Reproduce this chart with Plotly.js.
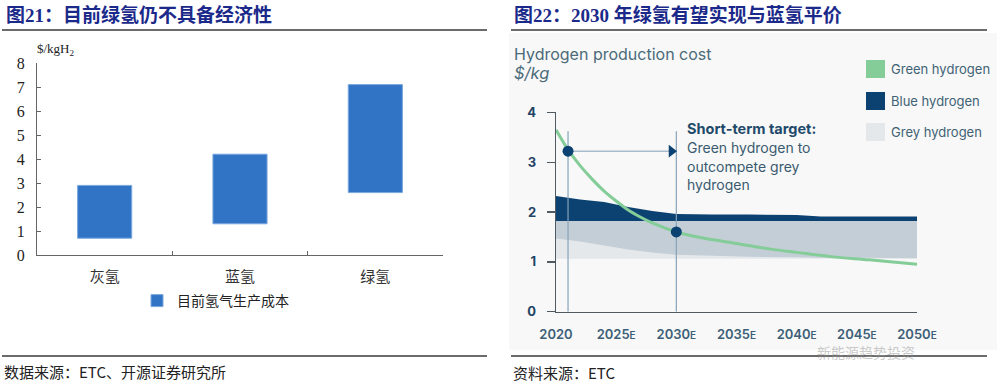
<!DOCTYPE html>
<html><head><meta charset="utf-8">
<script src="https://cdn.plot.ly/plotly-3.0.1.min.js"></script>
<style>html,body{margin:0;padding:0;background:#fff}#chart{width:1000px;height:382px}</style>
</head><body><div id="chart"></div>
<script>
// ---------- Left chart data (图21) ----------
const leftCategories = ['灰氢', '蓝氢', '绿氢'];
const costLow = [0.7, 1.3, 2.6];
const costHigh = [2.9, 4.2, 7.1];
const leftSeriesName = '目前氢气生产成本';
const leftYTicks = [0, 1, 2, 3, 4, 5, 6, 7, 8];

// ---------- Right chart data (图22) ----------
const bandYears = [2020, 2022, 2024, 2026, 2028, 2030, 2033, 2036, 2040, 2042, 2045, 2050];
const greyLow   = [1.06, 1.06, 1.06, 1.06, 1.06, 1.06, 1.06, 1.06, 1.06, 1.06, 1.06, 1.06];
const greyHigh  = [1.82, 1.82, 1.82, 1.82, 1.82, 1.82, 1.82, 1.82, 1.82, 1.82, 1.82, 1.82];
const blueLow   = [1.47, 1.41, 1.33, 1.25, 1.19, 1.14, 1.12, 1.10, 1.09, 1.08, 1.08, 1.07];
const blueHigh  = [2.32, 2.25, 2.20, 2.10, 2.02, 1.96, 1.95, 1.95, 1.94, 1.91, 1.91, 1.91];
const greenYears = [2020, 2021, 2022, 2023, 2024, 2025, 2026, 2027, 2028, 2030, 2032, 2035, 2038, 2040, 2043, 2046, 2050];
const greenCost  = [3.65, 3.25, 2.93, 2.66, 2.42, 2.22, 2.04, 1.90, 1.78, 1.60, 1.49, 1.37, 1.25, 1.19, 1.10, 1.04, 0.95];
const targetYears = [2021, 2030];
const targetCost = [3.22, 1.60];
const arrowEndYear = 2029.6;
const guideTop = 3.62;
const rightXTicks = [2020, 2025, 2030, 2035, 2040, 2045, 2050];
const rightXLabels = ['2020', '2025E', '2030E', '2035E', '2040E', '2045E', '2050E'];
const rightYTicks = [0, 1, 2, 3, 4];
const legendNames = ['Green hydrogen', 'Blue hydrogen', 'Grey hydrogen'];

// ---------- helpers ----------
const W = 1000, H = 382;
const px = v => v / W;
const py = v => 1 - v / H;
const poly = (xs, hi, lo) => ({
  x: xs.concat(xs.slice().reverse()),
  y: hi.concat(lo.slice().reverse())
});

const SERIF = '"Liberation Serif", "Noto Sans CJK SC", serif';
const CJK = '"Noto Sans CJK SC", sans-serif';
const SANS = 'Inter, "Open Sans", sans-serif';
const TITLE_C = '#1b2a8a';
const GREEN = '#84cc98', NAVY = '#0b4271', MID = '#c4ced7', LIGHT = '#e5e8eb';

// ---------- traces ----------
const traces = [];
traces.push({
  type: 'bar', x: leftCategories, base: costLow,
  y: costHigh.map((h, i) => h - costLow[i]),
  width: 0.4, name: leftSeriesName, xaxis: 'x', yaxis: 'y',
  marker: { color: '#3174c6', line: { color: '#7aa7dd', width: 1 } },
  hoverinfo: 'skip', showlegend: true
});

const greyPoly = poly(bandYears, greyHigh, greyLow);
traces.push({ type: 'scatter', mode: 'none', fill: 'toself', fillcolor: LIGHT,
  x: greyPoly.x, y: greyPoly.y, xaxis: 'x2', yaxis: 'y2', showlegend: false, hoverinfo: 'skip' });
const midPoly = poly(bandYears, greyHigh, blueLow);
traces.push({ type: 'scatter', mode: 'none', fill: 'toself', fillcolor: MID,
  x: midPoly.x, y: midPoly.y, xaxis: 'x2', yaxis: 'y2', showlegend: false, hoverinfo: 'skip' });
const bluePoly = poly(bandYears, blueHigh, greyHigh);
traces.push({ type: 'scatter', mode: 'none', fill: 'toself', fillcolor: NAVY,
  x: bluePoly.x, y: bluePoly.y, xaxis: 'x2', yaxis: 'y2', showlegend: false, hoverinfo: 'skip' });

targetYears.forEach(yr => {
  traces.push({ type: 'scatter', mode: 'lines', x: [yr, yr], y: [0, guideTop],
    line: { color: '#86a3ba', width: 1.2 }, xaxis: 'x2', yaxis: 'y2', showlegend: false, hoverinfo: 'skip' });
});
traces.push({ type: 'scatter', mode: 'lines', x: [targetYears[0], arrowEndYear], y: [targetCost[0], targetCost[0]],
  line: { color: '#a9bccb', width: 1.5 }, xaxis: 'x2', yaxis: 'y2', showlegend: false, hoverinfo: 'skip' });
traces.push({ type: 'scatter', mode: 'lines', x: greenYears, y: greenCost,
  line: { color: GREEN, width: 3, shape: 'spline', smoothing: 0.8 }, xaxis: 'x2', yaxis: 'y2', showlegend: false, hoverinfo: 'skip' });
traces.push({ type: 'scatter', mode: 'markers', x: targetYears, y: targetCost,
  marker: { color: NAVY, size: 11 }, xaxis: 'x2', yaxis: 'y2', showlegend: false, hoverinfo: 'skip' });
traces.push({ type: 'scatter', mode: 'markers', x: [arrowEndYear], y: [targetCost[0]],
  marker: { color: NAVY, size: 11, symbol: 'triangle-right' }, xaxis: 'x2', yaxis: 'y2', showlegend: false, hoverinfo: 'skip' });

// ---------- shapes ----------
const shapes = [
  { type: 'rect', xref: 'paper', yref: 'paper', x0: px(509), x1: px(997), y0: py(350), y1: py(33), fillcolor: '#f7f8f7', line: { width: 0 }, layer: 'below' },
  { type: 'line', xref: 'paper', yref: 'paper', x0: px(2), x1: px(487), y0: py(30), y1: py(30), line: { color: '#3a3a3a', width: 1.5 } },
  { type: 'line', xref: 'paper', yref: 'paper', x0: px(511), x1: px(987), y0: py(30), y1: py(30), line: { color: '#3a3a3a', width: 1.5 } },
  { type: 'line', xref: 'paper', yref: 'paper', x0: px(2), x1: px(487), y0: py(356), y1: py(356), line: { color: '#3a3a3a', width: 1.5 } },
  { type: 'line', xref: 'paper', yref: 'paper', x0: px(511), x1: px(987), y0: py(356), y1: py(356), line: { color: '#3a3a3a', width: 1.5 } }
];
const legColors = [GREEN, NAVY, LIGHT];
const legY = [69, 101, 132];
legY.forEach((cy, i) => {
  shapes.push({ type: 'rect', xref: 'paper', yref: 'paper', x0: px(866), x1: px(885), y0: py(cy + 9), y1: py(cy - 9),
    fillcolor: legColors[i], line: { width: 0 } });
});

// ---------- annotations ----------
const ann = (text, x, y, font, extra) => Object.assign({ text, xref: 'paper', yref: 'paper', x: px(x), y: py(y),
  xanchor: 'left', yanchor: 'middle', showarrow: false, font }, extra || {});
const annotations = [
  ann('<b>图21：目前绿氢仍不具备经济性</b>', 4, 15, { family: SERIF, size: 19, color: TITLE_C }),
  ann('<b>图22：2030 年绿氢有望实现与蓝氢平价</b>', 512, 15, { family: SERIF, size: 19, color: TITLE_C }),
  ann('$/kgH<sub>2</sub>', 35, 50, { family: SERIF, size: 13, color: '#222' }),
  ann('数据来源：ETC、开源证券研究所', 2, 371, { family: CJK, size: 15, color: '#222' }),
  ann('资料来源：ETC', 511, 372, { family: CJK, size: 15, color: '#222' }),
  ann('Hydrogen production cost', 512, 54, { family: SANS, size: 16, color: '#4b6a7a' }),
  ann('<i>$/kg</i>', 512, 73, { family: SANS, size: 16.5, color: '#4b6a7a' }),
  ann('<b>Short-term target:</b>', 685, 128, { family: SANS, size: 14.5, color: '#1f4a6b' }),
  ann('Green hydrogen to', 685, 147, { family: SANS, size: 14, color: '#3a5a70' }),
  ann('outcompete grey', 685, 166, { family: SANS, size: 14, color: '#3a5a70' }),
  ann('hydrogen', 685, 185, { family: SANS, size: 14, color: '#3a5a70' }),
  ann('新能源趋势投资', 815, 352, { family: CJK, size: 14, color: 'rgba(150,150,150,0.5)' })
];
legendNames.forEach((n, i) => annotations.push(ann(n, 889, legY[i], { family: SANS, size: 13, color: '#3f6275' })));

// ---------- layout ----------
const layout = {
  width: W, height: H, margin: { l: 0, r: 0, t: 0, b: 0 },
  paper_bgcolor: '#ffffff', plot_bgcolor: 'rgba(0,0,0,0)',
  showlegend: true,
  legend: { x: px(137), y: py(301), xanchor: 'left', yanchor: 'middle', orientation: 'h',
    font: { family: CJK, size: 14, color: '#222' }, bgcolor: 'rgba(0,0,0,0)', itemclick: false },
  xaxis: { domain: [px(37), px(443)], anchor: 'y', type: 'category', range: [-0.5, 2.5],
    showline: true, linecolor: '#666', linewidth: 1, ticks: 'inside', ticklen: 4, tickcolor: '#666',
    tickson: 'boundaries', showgrid: false, zeroline: false, fixedrange: true,
    tickfont: { family: CJK, size: 15, color: '#333' }, ticklabelstandoff: 8 },
  yaxis: { domain: [py(255), py(63)], anchor: 'x', range: [0, 8], tickvals: leftYTicks,
    showline: true, linecolor: '#666', linewidth: 1, ticks: 'inside', ticklen: 4, tickcolor: '#666',
    showgrid: false, zeroline: false, fixedrange: true,
    tickfont: { family: SERIF, size: 16, color: '#222' }, ticklabelstandoff: 8 },
  xaxis2: { domain: [px(556), px(917)], anchor: 'y2', range: [2020, 2050], tickvals: rightXTicks,
    ticktext: rightXLabels.map(t => t.endsWith('E') ? t.slice(0, -1) + '<span style="font-size:10px">E</span>' : t),
    showline: true, linecolor: '#505a62', linewidth: 1.3, ticks: '', showgrid: false, zeroline: false,
    tickfont: { family: SANS, size: 13, color: '#3d5f78', weight: 600 }, ticklabelstandoff: 10 },
  yaxis2: { domain: [py(311.7), py(112.3)], anchor: 'x2', range: [0, 4], tickvals: rightYTicks,
    showline: true, linecolor: '#505a62', linewidth: 1.3, ticks: 'outside', ticklen: 8, tickcolor: '#505a62', tickwidth: 1.3,
    showgrid: false, zeroline: false,
    tickfont: { family: SANS, size: 13, color: '#1f4466', weight: 'bold' }, ticklabelstandoff: 8 },
  shapes, annotations
};

Plotly.newPlot('chart', traces, layout, { staticPlot: true, displayModeBar: false });
</script>
</body></html>
